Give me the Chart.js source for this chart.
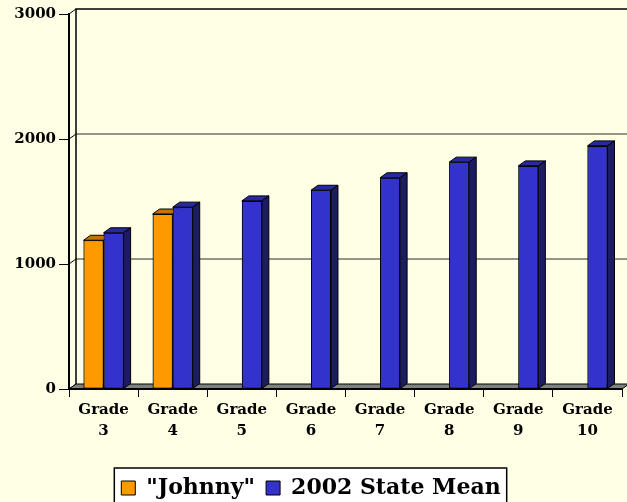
<!DOCTYPE html>
<html>
<head>
<meta charset="utf-8">
<script src="https://cdn.jsdelivr.net/npm/chart.js@4/dist/chart.umd.min.js"></script>
<style>
  html, body { margin: 0; padding: 0; background: #FFFFE6; }
  canvas { display: block; }
</style>
</head>
<body>
<canvas id="chart" width="627" height="502"></canvas>
<script>
const grades = [['Grade', '3'], ['Grade', '4'], ['Grade', '5'], ['Grade', '6'],
                ['Grade', '7'], ['Grade', '8'], ['Grade', '9'], ['Grade', '10']];
const johnny = [1190, 1400, null, null, null, null, null, null];
const stateMean = [1250, 1455, 1505, 1590, 1690, 1815, 1785, 1945];
const yTicks = [0, 1000, 2000, 3000];

// depth of the fake 3d look
const DX = 7, DY = -5;

function poly(ctx, pts, fill, stroke) {
  ctx.beginPath();
  ctx.moveTo(pts[0][0], pts[0][1]);
  pts.slice(1).forEach(p => ctx.lineTo(p[0], p[1]));
  ctx.closePath();
  if (fill) { ctx.fillStyle = fill; ctx.fill(); }
  if (stroke) { ctx.strokeStyle = stroke; ctx.lineWidth = 1; ctx.stroke(); }
}

const threeD = {
  id: 'threeD',
  beforeDatasetsDraw(chart) {
    const {ctx, chartArea: a, scales: {y}} = chart;
    ctx.save();
    // grid lines on the back wall + connectors to the front axis
    y.ticks.forEach(t => {
      const py = y.getPixelForValue(t.value);
      ctx.strokeStyle = '#000';
      ctx.lineWidth = 1;
      ctx.beginPath();
      ctx.moveTo(a.left, py);
      ctx.lineTo(a.left + DX, py + DY);
      ctx.stroke();
      if (t.value > 0 && t.value < yTicks[yTicks.length - 1]) {
        ctx.strokeStyle = '#2a2a2a';
        ctx.beginPath();
        ctx.moveTo(a.left + DX, py + DY);
        ctx.lineTo(a.right + DX + 10, py + DY);
        ctx.stroke();
      }
    });
    // back wall edges
    ctx.strokeStyle = '#000';
    ctx.lineWidth = 1.5;
    ctx.beginPath();
    ctx.moveTo(a.left + DX, a.bottom + DY);
    ctx.lineTo(a.left + DX, a.top + DY);
    ctx.lineTo(a.right + DX + 10, a.top + DY);
    ctx.stroke();
    // floor
    poly(ctx, [[a.left, a.bottom], [a.right, a.bottom], [a.right + DX, a.bottom + DY],
               [a.left + DX, a.bottom + DY]], '#808080', '#000');
    ctx.lineWidth = 2;
    ctx.beginPath();
    ctx.moveTo(a.left, a.bottom);
    ctx.lineTo(a.right, a.bottom);
    ctx.stroke();
    ctx.restore();
  },
  // chart.js paints the last dataset first; repaint in series order so the
  // state bar covers the side of Johnny's bar
  afterDatasetsDraw(chart) {
    const {ctx} = chart;
    ctx.save();
    chart.data.datasets.forEach((ds, di) => {
      chart.getDatasetMeta(di).data.forEach((bar, i) => {
        if (ds.data[i] == null) return;
        bar.draw(ctx);
        const {x, y, base, width} = bar.getProps(['x', 'y', 'base', 'width'], true);
        const l = x - width / 2, r = x + width / 2;
        poly(ctx, [[l, y], [r, y], [r + DX, y + DY], [l + DX, y + DY]], ds.topColor, '#000');
        poly(ctx, [[r, y], [r + DX, y + DY], [r + DX, base + DY], [r, base]], ds.sideColor, '#000');
      });
    });
    ctx.restore();
  },
  afterDraw(chart) {
    const lg = chart.legend;
    const hb = lg.legendHitBoxes;
    if (!hb || !hb.length) return;
    const left = hb[0].left - 7;
    const last = hb[hb.length - 1];
    const right = last.left + last.width + 6;
    const {ctx} = chart;
    ctx.save();
    ctx.fillStyle = '#FFFFFF';
    ctx.fillRect(left, lg.top + 2, right - left, 50);
    ctx.strokeStyle = '#000';
    ctx.lineWidth = 1.5;
    ctx.strokeRect(left, lg.top + 2, right - left, 50);
    ctx.restore();
    lg.draw();
  }
};

Chart.defaults.font.family = '"DejaVu Serif", serif';
Chart.defaults.color = '#000';

new Chart(document.getElementById('chart'), {
  type: 'bar',
  data: {
    labels: grades,
    datasets: [
      {
        label: '"Johnny"',
        data: johnny,
        backgroundColor: '#FF9900',
        topColor: '#C27400',
        sideColor: '#9A5C00',
        borderColor: '#000',
        borderWidth: 1,
        borderSkipped: false,
        categoryPercentage: 0.58,
        barPercentage: 1
      },
      {
        label: '2002 State Mean',
        data: stateMean,
        backgroundColor: '#3333CC',
        topColor: '#2828A0',
        sideColor: '#1C1C60',
        borderColor: '#000',
        borderWidth: 1,
        borderSkipped: false,
        categoryPercentage: 0.58,
        barPercentage: 1
      }
    ]
  },
  options: {
    responsive: false,
    animation: false,
    layout: { padding: { top: 14, right: 5, left: 0, bottom: 0 } },
    plugins: {
      tooltip: { enabled: false },
      legend: {
        position: 'bottom',
        maxHeight: 36,
        labels: {
          boxWidth: 14,
          boxHeight: 14,
          padding: 11,
          font: { size: 22, weight: 'bold' }
        }
      }
    },
    scales: {
      x: {
        ticks: {
          font: { size: 15, weight: 'bold', lineHeight: 1.4 },
          padding: 3,
          autoSkip: false,
          maxRotation: 0
        },
        grid: { drawOnChartArea: false, tickLength: 8, color: '#000', offset: true },
        border: { display: true, color: '#000', width: 2 },
        afterFit(s) { s.height = 77; }
      },
      y: {
        min: 0,
        max: 3000,
        afterBuildTicks(s) { s.ticks = yTicks.map(v => ({value: v})); },
        ticks: {
          font: { size: 15, weight: 'bold' },
          padding: 3,
          callback: v => String(v)
        },
        grid: { drawOnChartArea: false, tickLength: 10, color: '#000' },
        border: { display: true, color: '#000', width: 2 },
        afterFit(s) { s.width = 69; }
      }
    }
  },
  plugins: [threeD]
});
</script>
</body>
</html>
